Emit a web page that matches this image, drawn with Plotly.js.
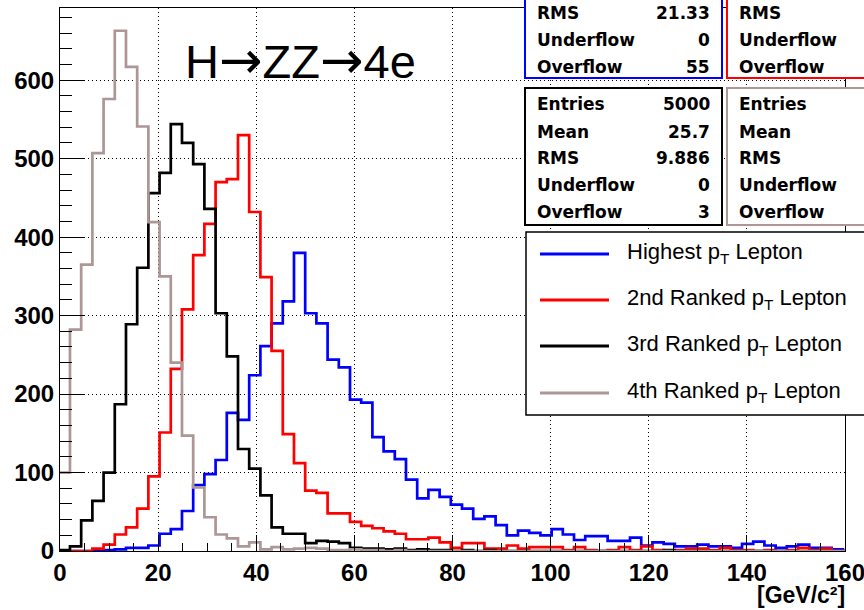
<!DOCTYPE html>
<html><head><meta charset="utf-8">
<script src="https://cdn.plot.ly/plotly-3.0.1.min.js"></script>
<style>html,body{margin:0;padding:0;overflow:hidden;background:#fff}#chart{width:864px;height:610px}</style>
</head><body><div id="chart"></div>
<script>
// ---- data (counts per bin) ----
const seriesNames = ["Highest p<sub>T</sub> Lepton", "2nd Ranked p<sub>T</sub> Lepton", "3rd Ranked p<sub>T</sub> Lepton", "4th Ranked p<sub>T</sub> Lepton"];
const highestPt = [0,0,0,0,1,2,4,4,7,22,28,51,84,98,116,176,167,224,261,290,318,380,303,290,244,234,193,189,145,127,117,91,67,78,69,59,54,41,44,33,20,26,23,20,28,21,14,19,19,13,13,17,7,11,9,6,6,8,6,6,4,9,12,7,4,6,8,4,4,2,0];
const secondPt  = [0,0,0,3,8,21,30,54,95,151,232,308,377,417,470,474,530,432,349,255,149,112,77,74,48,48,37,32,29,25,22,15,15,17,11,4,10,10,3,3,7,3,5,5,5,1,5,1,0,1,5,1,6,1,0,1,3,3,1,4,1,1,0,1,0,1,4,1,3,0,0];
const thirdPt   = [1,6,39,64,100,187,289,361,456,482,544,520,493,436,303,248,130,105,71,30,22,22,10,13,12,10,4,3,3,2,3,1,2,1,1,0,1,0,1,0,0,0,0,0,0,0,0,0,0,0,0,0,0,0,1,0,0,0,0,0,0,0,0,0,0,0,0,0,0,0,0];
const fourthPt  = [100,282,365,507,576,663,617,541,419,350,240,147,81,43,21,16,6,11,2,5,2,3,4,3,1,1,2,1,1,0,1,0,0,0,0,0,0,0,0,0,0,0,0,0,0,0,0,0,0,0,0,0,0,0,0,0,0,0,0,0,0,0,0,0,0,0,0,0,0,0,0];
const binLow = -0.25, binWidth = 2.283;
const statLabels = ["Entries","Mean","RMS","Underflow","Overflow"];
const statsHighestShown = {labels:["RMS","Underflow","Overflow"], values:["21.33","0","55"]};
const statsSecondShown  = {labels:["RMS","Underflow","Overflow"]};
const statsThird  = ["5000","25.7","9.886","0","3"];
const titleParts = ["H","ZZ","4e"];
const xTitle = "[GeV/c\u00b2]";

// ---- style ----
const colors = ["#0000ff","#ff0000","#000000","#ad9696"];
const L=60, T=8, W=785, H=543, FW=864, FH=610;
const px = x => (x-L)/W, py = y => (T+H-y)/H;

function histTrace(vals, color){
  const xs=[], ys=[];
  for(let k=0;k<vals.length;k++){ xs.push(binLow+k*binWidth); ys.push(vals[k]); }
  xs.push(binLow+vals.length*binWidth); ys.push(vals[vals.length-1]);
  return {x:xs, y:ys, type:'scatter', mode:'lines', line:{shape:'hv', color:color, width:2.7}, hoverinfo:'skip', showlegend:false};
}
const traces = [histTrace(highestPt,colors[0]), histTrace(secondPt,colors[1]), histTrace(thirdPt,colors[2]), histTrace(fourthPt,colors[3])];

const shapes=[], ann=[];
function box(x0,y0,x1,y1,color,w){ shapes.push({type:'rect',xref:'paper',yref:'paper',x0:px(x0),x1:px(x1),y0:py(y1),y1:py(y0),line:{color:color,width:w},fillcolor:'#ffffff',layer:'above'}); }
const statFont = {family:'DejaVu Sans', size:17, color:'#000', weight:'bold'};
function txt(x,y,t,anchor,font){ ann.push({xref:'paper',yref:'paper',x:px(x),y:py(y),text:t,showarrow:false,xanchor:anchor,yanchor:'middle',font:font}); }

// stat boxes
box(525,-10,722,78,colors[0],2); box(727,-10,900,78,colors[1],2);
box(525,88,722,225,colors[2],2); box(727,88,900,225,colors[3],2);
const rowsTop=[13.3,40,66.7], rowsBot=[104,131.7,157.7,185,211.7];
statsHighestShown.labels.forEach((l,i)=>{ txt(535,rowsTop[i],l,'left',statFont); txt(712,rowsTop[i],statsHighestShown.values[i],'right',statFont); });
statsSecondShown.labels.forEach((l,i)=>{ txt(737,rowsTop[i],l,'left',statFont); });
statLabels.forEach((l,i)=>{ txt(535,rowsBot[i],l,'left',statFont); txt(712,rowsBot[i],statsThird[i],'right',statFont); txt(737,rowsBot[i],l,'left',statFont); });

// legend
box(526,232,900,415,'#000',1.5);
const legY=[254,300,346,393];
const legFont={family:'Liberation Sans', size:22, color:'#000'};
seriesNames.forEach((n,i)=>{
  shapes.push({type:'line',xref:'paper',yref:'paper',x0:px(540),x1:px(609),y0:py(legY[i]),y1:py(legY[i]),line:{color:colors[i],width:3},layer:'above'});
  txt(625,legY[i]-1,n,'left',legFont);
});

// title and axis title
const arrow = '<span style="font-family:DejaVu Sans;font-size:52px">\u2192</span>';
txt(300,60,titleParts.join(arrow),'center',{family:'Liberation Sans',size:47,color:'#000'});
ann.push({xref:'paper',yref:'paper',x:px(846),y:py(609),text:xTitle,showarrow:false,xanchor:'right',yanchor:'bottom',borderpad:0,font:{family:'Liberation Sans',size:23,color:'#000',weight:'bold'}});

const tickFont={family:'Liberation Sans',size:24,color:'#000',weight:'bold'};
const layout = {
  width:FW, height:FH, margin:{l:L,r:FW-L-W,t:T,b:FH-T-H}, paper_bgcolor:'#fff', plot_bgcolor:'#fff',
  xaxis:{range:[0,160], tick0:0, dtick:20, ticks:'inside', ticklen:16, tickwidth:1, tickcolor:'#000', ticklabeloverflow:'allow',
    showline:true, linecolor:'#000', linewidth:1, mirror:true, showgrid:true, gridcolor:'#000', gridwidth:1, griddash:'1px,3px',
    zeroline:false, tickfont:tickFont, minor:{dtick:5, ticks:'inside', ticklen:8, tickcolor:'#000', showgrid:false}},
  yaxis:{range:[0,692], tick0:0, dtick:100, ticks:'inside', ticklen:24, tickwidth:1, tickcolor:'#000',
    showline:true, linecolor:'#000', linewidth:1, mirror:true, showgrid:true, gridcolor:'#000', gridwidth:1, griddash:'1px,3px',
    zeroline:false, tickfont:tickFont, minor:{dtick:20, ticks:'inside', ticklen:12, tickcolor:'#000', showgrid:false}},
  shapes:shapes, annotations:ann, showlegend:false
};
Plotly.newPlot('chart', traces, layout, {staticPlot:true});
</script></body></html>
